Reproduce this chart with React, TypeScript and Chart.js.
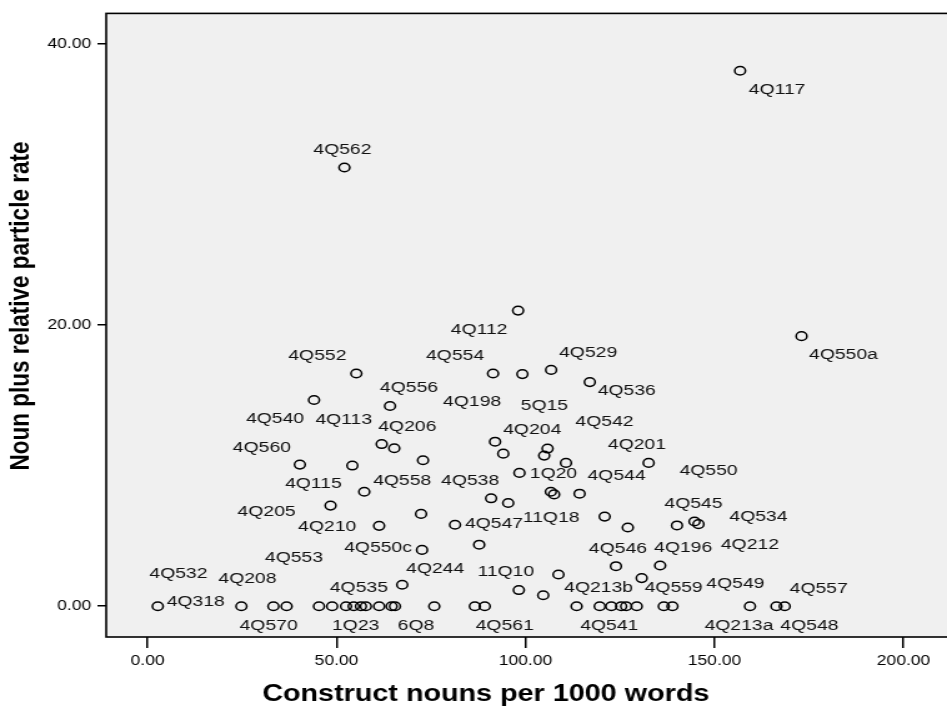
import React, { useEffect, useRef } from 'react';
import { Chart, registerables } from 'chart.js';

Chart.register(...registerables);

// ---------------- data ----------------
const textNames: string[] = [
  '4Q562', '4Q117', '4Q112', '4Q550a', '4Q552', '4Q554', '5Q15', '4Q529', '4Q536', '4Q540',
  '4Q556', '4Q113', '4Q206', '', '4Q560', '4Q115', '4Q198', '4Q204', '4Q542', '',
  '4Q201', '4Q550', '1Q20', '4Q558', '4Q538', '11Q18', '', '', '4Q544', '4Q205',
  '', '4Q210', '4Q547', '', '', '4Q212', '4Q545', '4Q534', '4Q550c', '',
  '4Q546', '4Q196', '', '4Q559', '4Q244', '11Q10', '',
  '4Q318', '4Q532', '4Q208', '4Q570', '4Q553', '', '', '1Q23', '4Q535', '',
  '', '', '6Q8', '', '', '4Q561', '4Q213b', '', '4Q541', '',
  '', '', '', '4Q549', '4Q213a', '4Q548', '4Q557',
];

const constructNouns: number[] = [
  52.08, 156.75, 98.03, 173.0, 55.23, 91.40, 99.16, 106.76, 116.99, 44.04,
  64.14, 61.94, 65.27, 72.87, 40.29, 54.18, 91.93, 94.10, 105.82, 104.93,
  110.69, 132.56, 98.38, 57.33, 90.88, 95.41, 106.68, 107.55, 114.29, 48.41,
  72.35, 61.26, 81.34, 120.92, 127.05, 140.05, 144.69, 145.74, 72.61, 87.73,
  123.91, 135.6, 108.70, 130.72, 67.37, 98.22, 104.67,
  2.70, 24.82, 33.29, 36.78, 45.35, 48.84, 52.51, 54.52, 56.44, 57.75,
  61.26, 64.56, 65.45, 75.85, 86.58, 89.20, 113.50, 119.61, 122.67, 125.29,
  126.61, 129.41, 136.57, 138.85, 159.37, 166.37, 168.55,
];

const relativeRate: number[] = [
  31.22, 38.11, 21.04, 19.22, 16.56, 16.56, 16.52, 16.82, 15.95, 14.68,
  14.25, 11.54, 11.24, 10.39, 10.08, 10.01, 11.71, 10.86, 11.22, 10.72,
  10.20, 10.20, 9.49, 8.15, 7.68, 7.35, 8.15, 7.96, 8.01, 7.16,
  6.57, 5.72, 5.80, 6.38, 5.60, 5.75, 6.03, 5.84, 4.01, 4.38,
  2.85, 2.90, 2.26, 2.00, 1.53, 1.15, 0.78,
  0, 0, 0, 0, 0, 0, 0, 0, 0, 0,
  0, 0, 0, 0, 0, 0, 0, 0, 0, 0,
  0, 0, 0, 0, 0, 0, 0,
];

const xTickValues: number[] = [0, 50, 100, 150, 200];
const yTickValues: number[] = [0, 20, 40];
const xTitle = 'Construct nouns per 1000 words';
const yTitle = 'Noun plus relative particle rate';

// ---------------- layout (screen px offsets of each text label from its point) ----------------
const labelOffsets: Record<string, [number, number]> = {
  '4Q562': [-2, -18], '4Q117': [37, 19], '4Q112': [-39, 19], '4Q550a': [42, 19],
  '4Q552': [-39, -18], '4Q554': [-38, -18], '5Q15': [22, 32], '4Q529': [37, -17],
  '4Q536': [37, 9], '4Q540': [-39, 19], '4Q556': [19, -18], '4Q113': [-38, -24],
  '4Q206': [13, -22], '4Q560': [-38, -17], '4Q115': [-39, 18], '4Q198': [-23, -40],
  '4Q204': [29, -24], '4Q542': [57, -27], '4Q201': [71, -18], '4Q550': [60, 8],
  '1Q20': [34, 1], '4Q558': [38, -11], '4Q538': [-21, -18], '11Q18': [43, 15],
  '4Q544': [37, -18], '4Q205': [-64, 6], '4Q210': [-52, 1], '4Q547': [39, -1],
  '4Q212': [73, 19], '4Q545': [-1, -18], '4Q534': [60, -7], '4Q550c': [-44, -2],
  '4Q546': [2, -17], '4Q196': [23, -18], '4Q559': [32, 10], '4Q244': [33, -16],
  '11Q10': [-13, -18], '4Q318': [38, -5], '4Q532': [-63, -33], '4Q208': [-26, -28],
  '4Q570': [-18, 19], '4Q553': [-25, -49], '1Q23': [2, 19], '4Q535': [-2, -19],
  '6Q8': [21, 19], '4Q561': [20, 19], '4Q213b': [22, -19], '4Q541': [-2, 19],
  '4Q549': [63, -23], '4Q213a': [-11, 19], '4Q548': [33, 19], '4Q557': [34, -18],
};

const SCREEN_W = 947;
const H = 711;
const STRETCH = 1.25;
const W = Math.round(SCREEN_W / STRETCH);
const FONT = "'Liberation Sans', Arial, sans-serif";

const fmt = (v: number) => Number(v).toFixed(2);

const decorPlugin = {
  id: 'decor',
  beforeDraw(chart: any) {
    const { ctx, chartArea: a } = chart;
    ctx.save();
    ctx.fillStyle = '#f0f0f0';
    ctx.fillRect(a.left, a.top, a.right - a.left + 20, a.bottom - a.top);
    ctx.restore();
  },
  afterDatasetsDraw(chart: any) {
    const { ctx } = chart;
    const meta = chart.getDatasetMeta(0);
    ctx.save();
    ctx.fillStyle = '#111';
    ctx.font = `15.5px ${FONT}`;
    ctx.textAlign = 'center';
    ctx.textBaseline = 'middle';
    meta.data.forEach((el: any, i: number) => {
      const name = textNames[i];
      if (!name) return;
      const off = labelOffsets[name] || [0, -18];
      ctx.fillText(name, el.x + off[0] / STRETCH, el.y + off[1]);
    });
    ctx.restore();
  },
  afterDraw(chart: any) {
    const { ctx, chartArea: a } = chart;
    ctx.save();
    ctx.strokeStyle = '#000';
    ctx.lineWidth = 1.6;
    ctx.strokeRect(a.left, a.top, a.right - a.left + 20, a.bottom - a.top);
    ctx.fillStyle = '#000';
    ctx.font = `bold 23px ${FONT}`;
    ctx.textAlign = 'center';
    ctx.textBaseline = 'middle';
    ctx.fillText(xTitle, 486 / STRETCH, 695);
    ctx.font = `bold 22.5px ${FONT}`;
    ctx.translate(21 / STRETCH, 306);
    ctx.rotate(-Math.PI / 2);
    ctx.fillText(yTitle, 0, 0);
    ctx.restore();
  },
};

export default function App() {
  const ref = useRef<HTMLCanvasElement | null>(null);

  useEffect(() => {
    if (!ref.current) return;
    const chart = new Chart(ref.current, {
      type: 'scatter',
      data: {
        datasets: [
          {
            data: constructNouns.map((x, i) => ({ x, y: relativeRate[i] })),
            pointRadius: 4.3,
            pointHoverRadius: 4.3,
            pointBorderWidth: 1.5,
            pointBorderColor: '#000',
            pointBackgroundColor: 'rgba(0,0,0,0)',
          },
        ],
      },
      options: {
        animation: false,
        responsive: false,
        devicePixelRatio: 1,
        events: [],
        layout: { padding: { top: 9, left: 0, right: 0, bottom: 0 } },
        plugins: { legend: { display: false }, tooltip: { enabled: false } },
        scales: {
          x: {
            type: 'linear',
            min: -10.94,
            max: 209.57,
            afterFit: (s: any) => { s.height = H - 637; },
            afterBuildTicks: (s: any) => { s.ticks = xTickValues.map((v) => ({ value: v })); },
            ticks: { color: '#000', font: { family: FONT, size: 14 }, padding: 5, callback: (v: any) => fmt(v), maxRotation: 0 },
            grid: { drawOnChartArea: false, drawTicks: true, tickLength: 11, color: '#000', lineWidth: 1.5 },
            border: { display: false },
          },
          y: {
            type: 'linear',
            min: -2.19,
            max: 42.19,
            afterFit: (s: any) => { s.width = 85; },
            afterBuildTicks: (s: any) => { s.ticks = yTickValues.map((v) => ({ value: v })); },
            ticks: { color: '#000', font: { family: FONT, size: 14 }, padding: 5, callback: (v: any) => fmt(v) },
            grid: { drawOnChartArea: false, drawTicks: true, tickLength: 7, color: '#000', lineWidth: 1.5 },
            border: { display: false },
          },
        },
      },
      plugins: [decorPlugin],
    } as any);
    return () => chart.destroy();
  }, []);

  return (
    <div style={{ position: 'fixed', left: 0, top: 0, width: SCREEN_W, height: H, overflow: 'hidden', background: '#fff' }}>
      <canvas ref={ref} width={W} height={H} style={{ width: `${SCREEN_W}px`, height: `${H}px`, display: 'block' }} />
    </div>
  );
}
